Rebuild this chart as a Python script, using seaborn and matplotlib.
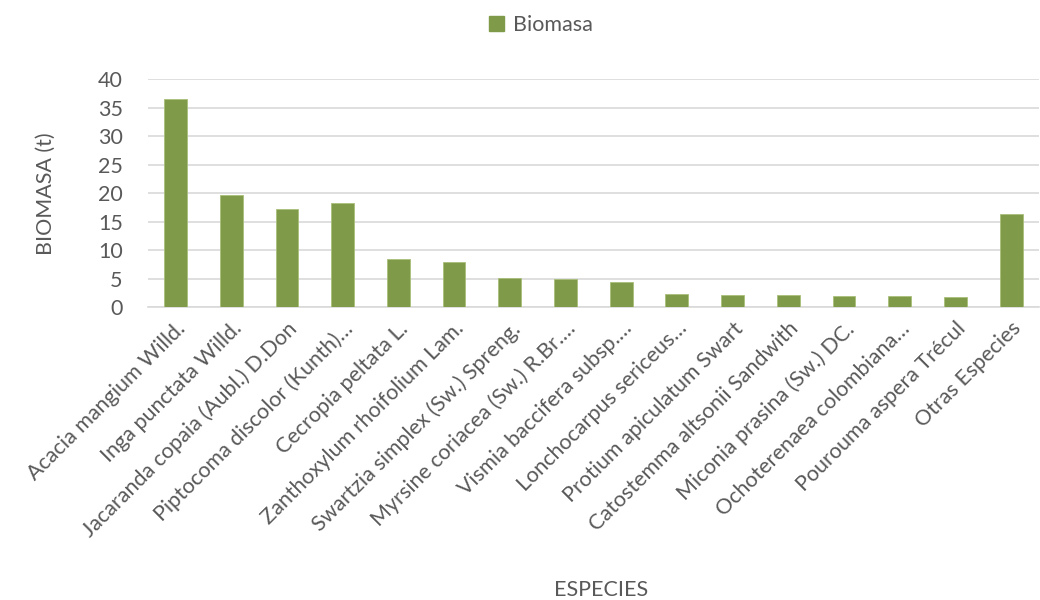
import matplotlib
matplotlib.use("Agg")
import matplotlib.pyplot as plt
import seaborn as sns
import pandas as pd
from matplotlib.patches import Patch

especies = [
    "Acacia mangium Willd.",
    "Inga punctata Willd.",
    "Jacaranda copaia (Aubl.) D.Don",
    "Piptocoma discolor (Kunth)…",
    "Cecropia peltata L.",
    "Zanthoxylum rhoifolium Lam.",
    "Swartzia simplex (Sw.) Spreng.",
    "Myrsine coriacea (Sw.) R.Br.…",
    "Vismia baccifera subsp.…",
    "Lonchocarpus sericeus…",
    "Protium apiculatum Swart",
    "Catostemma altsonii Sandwith",
    "Miconia prasina (Sw.) DC.",
    "Ochoterenaea colombiana…",
    "Pourouma aspera Trécul",
    "Otras Especies",
]
biomasa = [36.6, 19.6, 17.2, 18.3, 8.4, 8.0, 5.2, 4.9, 4.5, 2.4, 2.2, 2.2, 2.0, 1.9, 1.8, 16.3]
yticks = [0, 5, 10, 15, 20, 25, 30, 35, 40]

sns.set_theme(style="white")
plt.rcParams["font.family"] = ["Lato", "DejaVu Sans"]

GREEN = "#7f9a48"
TXT = "#595959"
FS = 15.5

df = pd.DataFrame({"Especie": especies, "Biomasa": biomasa})

fig = plt.figure(figsize=(10.4, 6), dpi=100)
ax = fig.add_axes([0.142, 0.488, 0.857, 0.38])

sns.barplot(data=df, x="Especie", y="Biomasa", color=GREEN, saturation=1,
            width=0.41, ax=ax, edgecolor="#a9bf7a", linewidth=0.6, zorder=3)

ax.set_ylim(0, 40)
ax.set_yticks(yticks)
ax.set_xlim(-0.5, len(especies) - 0.5)
ax.yaxis.grid(True, color="#d9d9d9", linewidth=1.2, zorder=0)
ax.set_axisbelow(True)
for s in ["top", "right", "left"]:
    ax.spines[s].set_visible(False)
ax.spines["bottom"].set_color("#d9d9d9")
ax.spines["bottom"].set_linewidth(1.2)
ax.tick_params(axis="both", length=0, colors=TXT, labelsize=FS)
ax.tick_params(axis="y", pad=18)
ax.set_xticks(range(len(especies)))
ax.set_xticklabels(especies, rotation=45, ha="right", rotation_mode="anchor",
                   fontsize=FS, color=TXT)
ax.tick_params(axis="x", pad=8)

ax.set_ylabel("BIOMASA (t)", fontsize=FS, color=TXT, labelpad=30)
ax.set_xlabel("")
fig.text(0.578, 0.0, "ESPECIES", fontsize=FS, color=TXT, ha="center", va="bottom")

handle = Patch(facecolor=GREEN, edgecolor=GREEN)
fig.legend([handle], ["Biomasa"], loc="center", bbox_to_anchor=(0.52, 0.958),
           frameon=False, fontsize=FS, labelcolor=TXT, handlelength=0.7,
           handleheight=0.7, handletextpad=0.4)

fig.savefig("out.png", dpi=100)
